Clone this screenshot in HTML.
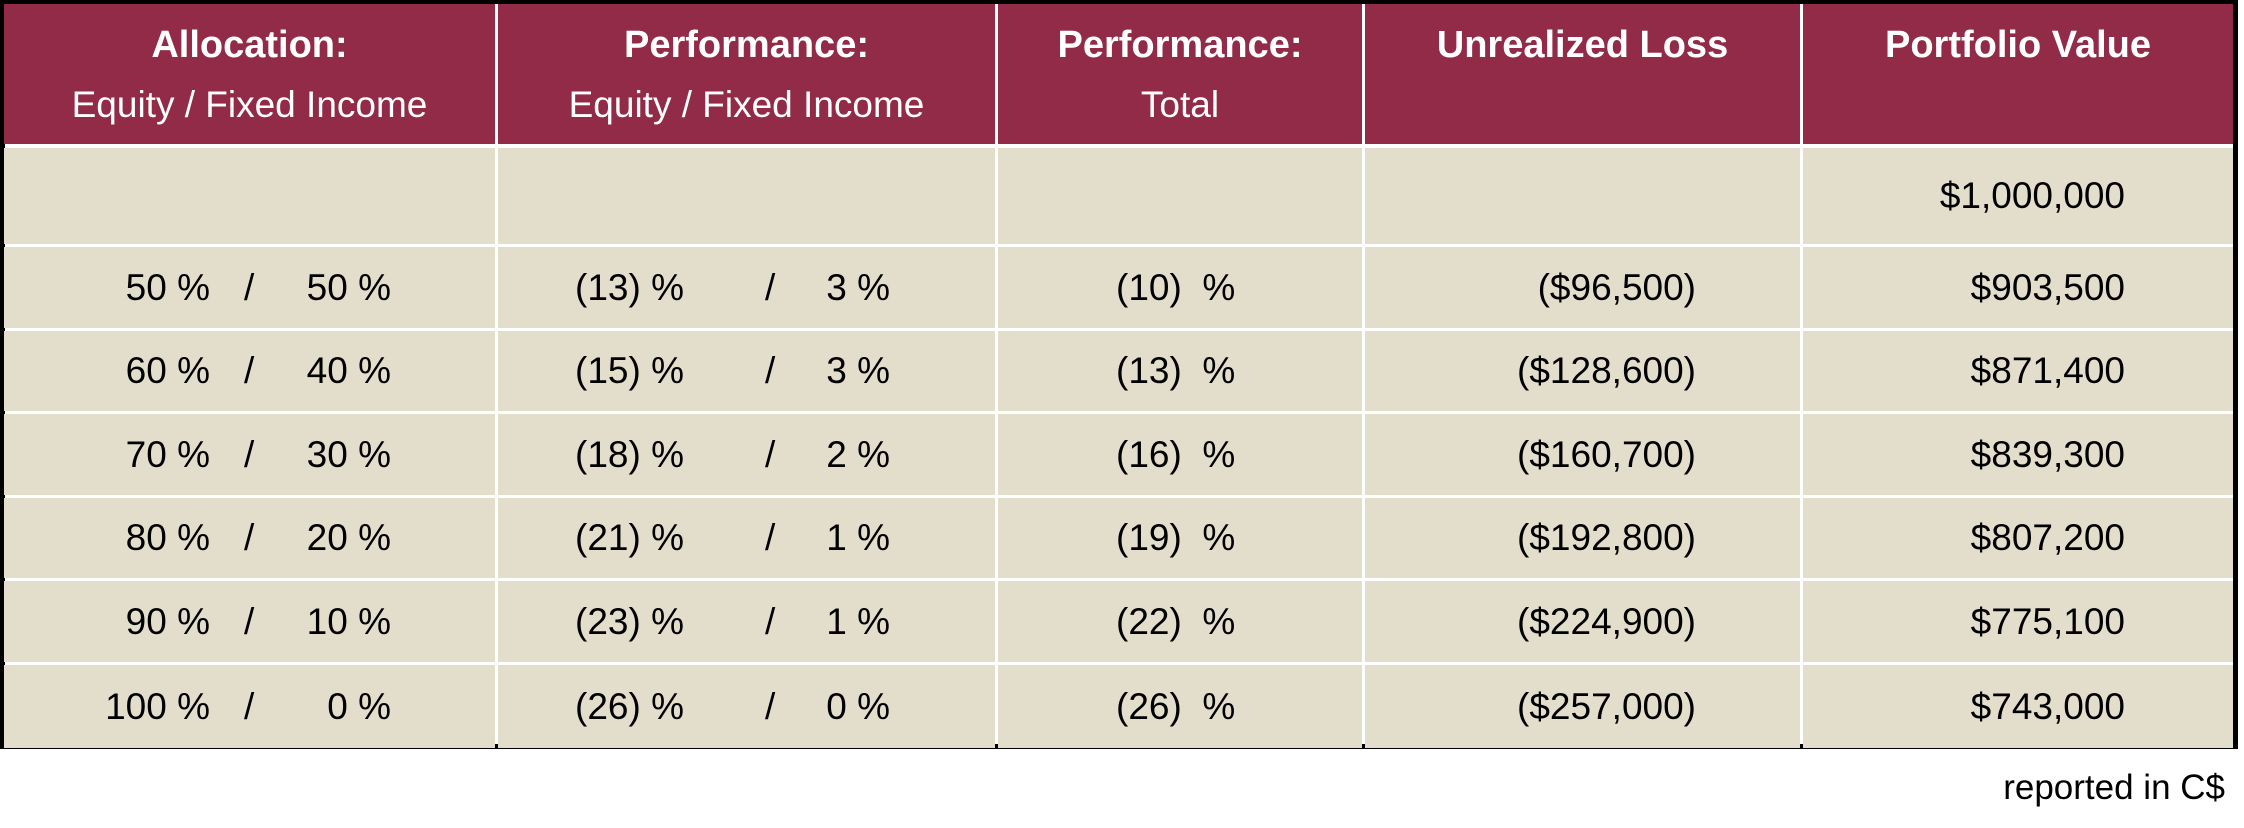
<!DOCTYPE html>
<html><head><meta charset="utf-8">
<style>
html,body{margin:0;padding:0;background:#fff;}
body{width:2244px;height:828px;position:relative;overflow:hidden;font-family:"Liberation Sans Narrow","Liberation Sans",sans-serif;}
#frame{position:absolute;left:0;top:0;width:2238px;height:749px;border:5px solid #000;border-top-width:4px;box-sizing:border-box;background:#fff;}
.hdr{position:absolute;top:0;height:144px;background:#922B47;color:#fff;text-align:center;}
.h1{position:absolute;left:0;right:0;top:20px;font-weight:bold;font-size:38px;}
.h2{position:absolute;left:0;right:0;top:80px;font-size:37px;}
.cell{position:absolute;background:#E3DECB;color:#000;font-size:37px;}
.t{position:absolute;white-space:pre;line-height:40px;}
#note{position:absolute;right:19px;top:768px;font-size:35px;color:#000;}
</style></head>
<body>
<div id="frame"></div>
<div id="note">reported in C$</div>
<script>
const headersTop=["Allocation:","Performance:","Performance:","Unrealized Loss","Portfolio Value"];
const headersBottom=["Equity / Fixed Income","Equity / Fixed Income","Total","",""];
const equityAlloc=[50,60,70,80,90,100];
const fixedAlloc=[50,40,30,20,10,0];
const equityPerf=["(13)","(15)","(18)","(21)","(23)","(26)"];
const fixedPerf=["3","3","2","1","1","0"];
const totalPerf=["(10)","(13)","(16)","(19)","(22)","(26)"];
const unrealized=["($96,500)","($128,600)","($160,700)","($192,800)","($224,900)","($257,000)"];
const portfolio=["$1,000,000","$903,500","$871,400","$839,300","$807,200","$775,100","$743,000"];

const colX=[4,498,998,1365,1803,2233];
const rowY=[148,247,331,414,498,581,665,748];
const body=document.body;
function mk(cls,x,y,w,h,name){
  const d=document.createElement('div');
  d.className=cls;
  d.style.left=x+'px';d.style.top=y+'px';d.style.width=w+'px';d.style.height=h+'px';
  
  
  body.appendChild(d);return d;
}
function txt(parent,s,x,align,name){
  const t=document.createElement('div');
  t.className='t';t.textContent=s;
  const y=(parseFloat(parent.style.height)-40)/2;
  t.style.top=y+'px';
  if(align==='r'){t.style.right=(parseFloat(parent.style.width)-x)+'px';}
  else if(align==='c'){t.style.left=(x-300)+'px';t.style.width='600px';t.style.textAlign='center';}
  else {t.style.left=x+'px';}
  
  
  parent.appendChild(t);
}
for(let c=0;c<5;c++){
  const x=colX[c],w=colX[c+1]-colX[c]-(c<4?3:0);
  const h=mk('hdr',x,4,w,140,'header-'+c);
  const a=document.createElement('div');a.className='h1';a.textContent=headersTop[c];
  
  
  h.appendChild(a);
  if(headersBottom[c]){
    const b=document.createElement('div');b.className='h2';b.textContent=headersBottom[c];
    
    
    h.appendChild(b);
  }
}
for(let r=0;r<7;r++){
  for(let c=0;c<5;c++){
    const x=colX[c],w=colX[c+1]-colX[c]-(c<4?3:0);
    const y=rowY[r],h=rowY[r+1]-rowY[r]-(r<6?3:0);
    const cell=mk('cell',x,y,w,h,'cell-r'+r+'-c'+c);
    if(r===0){
      if(c===4) txt(cell,portfolio[0],2125-x,'r','portfolio-value');
      continue;
    }
    const i=r-1;
    if(c===0){
      txt(cell,equityAlloc[i]+' %',210-x,'r','equity-allocation');
      txt(cell,'/',244-x,'l','separator');
      txt(cell,fixedAlloc[i]+' %',391-x,'r','fixed-allocation');
    }else if(c===1){
      txt(cell,equityPerf[i]+' %',684-x,'r','equity-performance');
      txt(cell,'/',765-x,'l','separator');
      txt(cell,fixedPerf[i]+' %',890-x,'r','fixed-performance');
    }else if(c===2){
      txt(cell,totalPerf[i]+'  %',1116-x,'l','total-performance');
    }else if(c===3){
      txt(cell,unrealized[i],1696-x,'r','unrealized-loss');
    }else{
      txt(cell,portfolio[r],2125-x,'r','portfolio-value');
    }
  }
}
</script>
</body></html>
